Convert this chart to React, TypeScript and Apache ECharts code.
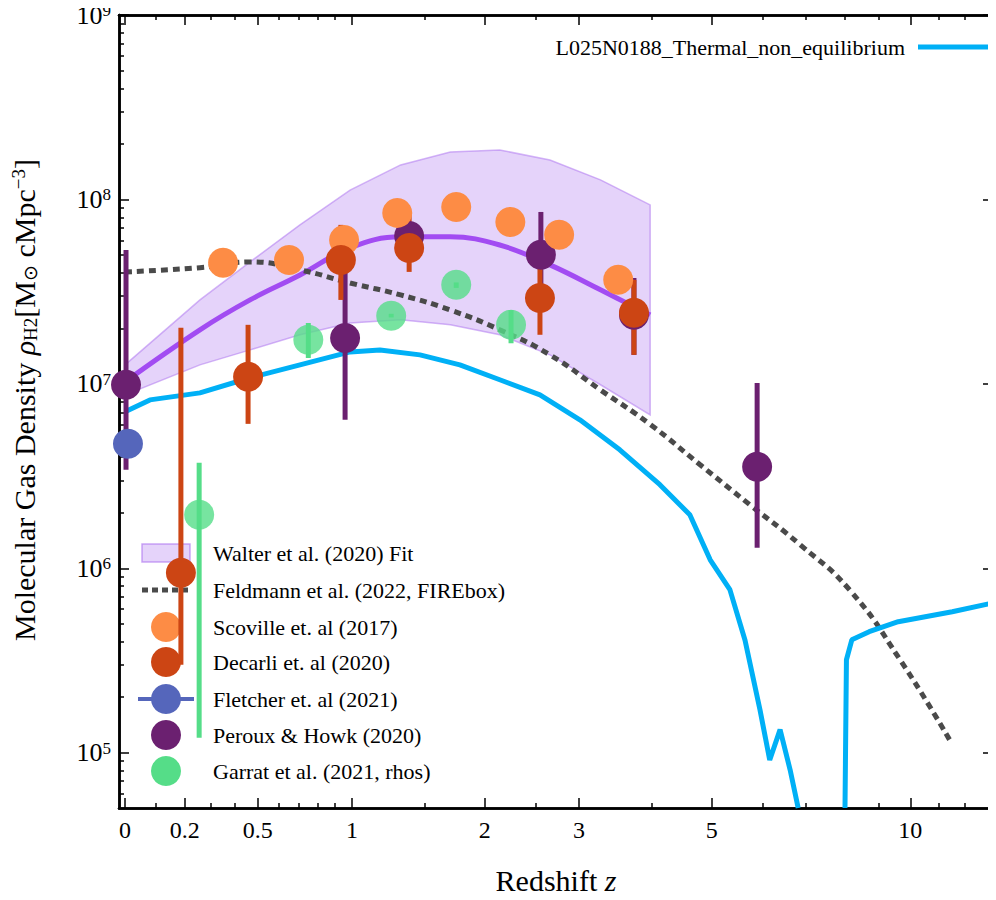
import React, { useEffect, useRef } from "react";
import * as echarts from "echarts";

// simulation curve (two segments, gap where density drops out)
const simZ1 = [0, 0.079, 0.257, 0.465, 0.706, 0.988, 1.178, 1.461, 1.78, 2.14, 2.55, 3.01, 3.53, 4.12, 4.61, 4.97, 5.34, 5.64, 5.95, 6.16, 6.39, 6.62, 6.81];
const simLog1 = [6.848, 6.913, 6.951, 7.033, 7.103, 7.173, 7.184, 7.157, 7.103, 7.022, 6.94, 6.805, 6.642, 6.453, 6.29, 6.046, 5.884, 5.61, 5.233, 4.96, 5.125, 4.907, 4.7];
const simZ2 = [8.01, 8.05, 8.2, 8.7, 9.6, 11.5, 13.2];
const simLog2 = [4.7, 5.504, 5.612, 5.656, 5.71, 5.764, 5.813];

const fireZ = [0, 0.257, 0.465, 0.706, 0.988, 1.32, 1.7, 2.14, 2.66, 3.27, 3.97, 4.79, 5.74, 6.86, 8.15, 9.66, 11.4];
const fireLog = [7.607, 7.63, 7.661, 7.618, 7.547, 7.482, 7.4, 7.293, 7.157, 6.967, 6.78, 6.561, 6.344, 6.127, 5.88, 5.504, 5.07];

const fitZ = [0, 0.257, 0.465, 0.706, 0.988, 1.32, 1.7, 2.14, 2.66, 3.27, 3.97];
const fitLog = [7.011, 7.293, 7.455, 7.59, 7.737, 7.797, 7.797, 7.753, 7.645, 7.51, 7.374];
const fitUpper = [7.103, 7.455, 7.661, 7.862, 8.05, 8.187, 8.257, 8.268, 8.214, 8.106, 7.97];
const fitLower = [6.94, 7.103, 7.184, 7.266, 7.33, 7.347, 7.32, 7.266, 7.157, 6.995, 6.832];

const scovZ = [0.349, 0.65, 0.952, 1.296, 1.749, 2.243, 2.764, 3.508];
const scovLog = [7.656, 7.672, 7.78, 7.927, 7.959, 7.878, 7.808, 7.564];

const decZ = [0.186, 0.456, 0.933, 1.381, 2.55, 3.73];
const decLog = [5.976, 7.038, 7.672, 7.737, 7.466, 7.385];
const decHi = [7.304, 7.32, 7.862, 7.916, 7.7, 7.564];
const decLo = [5.477, 6.783, 7.455, 7.607, 7.266, 7.157];

const fletZ = [0.009];
const fletLog = [6.675];

const perZ = [0.003, 0.958, 1.381, 2.56, 3.73, 5.89];
const perLog = [6.995, 7.249, 7.802, 7.7, 7.374, 6.55];
const perHi = [7.726, 7.846, 7.86, 7.932, 7.574, 7.005];
const perLo = [6.534, 6.805, 7.75, 7.455, 7.157, 6.111];

const garZ = [0.254, 0.75, 1.254, 1.749, 2.25];
const garLog = [6.29, 7.239, 7.369, 7.537, 7.32];
const garHi = [6.572, 7.33, 7.38, 7.55, 7.4];
const garLo = [5.081, 7.14, 7.36, 7.52, 7.22];

const xTickZ = [0, 0.2, 0.5, 1, 2, 3, 5, 10];
const xMinorZ = [0.1, 0.3, 0.4, 0.6, 0.7, 0.8, 0.9, 1.5, 2.5, 4, 6, 7, 8, 9, 11, 12, 13];
const yTicks = [5, 6, 7, 8, 9];

const lz = (z: number) => Math.log10(1 + z);
const pts = (zs: number[], ls: number[]) => zs.map((z, i) => [lz(z), ls[i]]);
const bars = (zs: number[], lo: number[], hi: number[]) => zs.map((z, i) => [lz(z), lo[i], hi[i]]);

const C = {
  sim: "#00b0f6",
  fire: "#4a4a4a",
  fit: "#a24cf2",
  band: "rgba(170,110,240,0.3)",
  scov: "#fd8c45",
  dec: "#cc4514",
  flet: "#5566bb",
  per: "#6b2070",
  gar: "#55dd88",
};

const SERIF = "Liberation Serif";

const errSeries = (data: number[][], color: string, w: number) => ({
  type: "custom",
  data,
  z: 3,
  renderItem: (params: any, api: any) => {
    const a = api.coord([api.value(0), api.value(1)]);
    const b = api.coord([api.value(0), api.value(2)]);
    return { type: "line", shape: { x1: a[0], y1: a[1], x2: b[0], y2: b[1] }, style: { stroke: color, lineWidth: w } };
  },
});

const scatter = (data: number[][], color: string, opacity = 1) => ({
  type: "scatter",
  data,
  symbolSize: 30,
  z: 4,
  itemStyle: { color, opacity },
});

const App: React.FC = () => {
  const ref = useRef<HTMLDivElement>(null);
  useEffect(() => {
    if (!ref.current) return;
    const chart = echarts.init(ref.current, null, { renderer: "svg" });
    const xMin = -0.008, xMax = 1.151, yMin = 4.7, yMax = 9;
    const baseX = (pos: string, major: boolean, labels: boolean) => ({
      type: "value", position: pos, min: xMin, max: xMax,
      axisLine: { show: true, onZero: false, lineStyle: { color: "#000", width: 2.5 } },
      splitLine: { show: false },
      axisTick: { inside: true, length: major ? 10 : 5, lineStyle: { color: "#000", width: 1.5 }, customValues: (major ? xTickZ : xMinorZ).map(lz) },
      axisLabel: { show: labels, customValues: xTickZ.map(lz), formatter: (v: number) => { const z = Math.pow(10, v) - 1; return String(Math.round(z * 10) / 10); }, fontFamily: SERIF, fontSize: 24, color: "#000", margin: 10 },
    });
    const yMinor: number[] = [];
    for (let n = 4; n < 9; n++) for (let k = 2; k <= 9; k++) { const v = n + Math.log10(k); if (v > yMin && v < yMax) yMinor.push(v); }
    const baseY = (pos: string, major: boolean, labels: boolean) => ({
      type: "value", position: pos, min: yMin, max: yMax,
      axisLine: { show: true, onZero: false, lineStyle: { color: "#000", width: 2.5 } },
      splitLine: { show: false },
      axisTick: { inside: true, length: major ? 10 : 5, lineStyle: { color: "#000", width: 1.5 }, customValues: major ? yTicks : yMinor },
      axisLabel: { show: labels, customValues: yTicks, formatter: (v: number) => `10{s|${v}}`, fontFamily: SERIF, fontSize: 26, color: "#000", margin: 8, rich: { s: { fontSize: 17, verticalAlign: "top", fontFamily: SERIF, padding: [0, 0, 6, 0] } } },
    });

    const legendRows = [
      { y: 553, text: "Walter et al. (2020) Fit", kind: "band" },
      { y: 590, text: "Feldmann et al. (2022, FIREbox)", kind: "dash" },
      { y: 627, text: "Scoville et. al (2017)", kind: "dot", color: C.scov },
      { y: 662, text: "Decarli et. al (2020)", kind: "dot", color: C.dec },
      { y: 699, text: "Fletcher et. al (2021)", kind: "dotline", color: C.flet },
      { y: 735, text: "Peroux & Howk (2020)", kind: "dot", color: C.per },
      { y: 771, text: "Garrat et al. (2021, rhos)", kind: "dot", color: C.gar },
    ];
    const legendEls: any[] = [];
    legendRows.forEach((r) => {
      if (r.kind === "band") legendEls.push({ type: "rect", shape: { x: 142, y: r.y - 9, width: 48, height: 18 }, style: { fill: C.band, stroke: "rgba(170,110,240,0.6)", lineWidth: 1.5 } });
      if (r.kind === "dash") legendEls.push({ type: "line", shape: { x1: 142, y1: r.y, x2: 190, y2: r.y }, style: { stroke: C.fire, lineWidth: 5, lineDash: [6, 4] } });
      if (r.kind === "dotline") legendEls.push({ type: "line", shape: { x1: 138, y1: r.y, x2: 194, y2: r.y }, style: { stroke: C.flet, lineWidth: 4 } });
      if (r.kind !== "band" && r.kind !== "dash") legendEls.push({ type: "circle", shape: { cx: 166, cy: r.y, r: 15 }, style: { fill: r.color } });
      legendEls.push({ type: "text", x: 213, y: r.y, style: { text: r.text, fontFamily: SERIF, fontSize: 22, fill: "#000", verticalAlign: "middle" } });
    });

    chart.setOption({
      animation: false,
      textStyle: { fontFamily: SERIF },
      grid: { left: 119, right: 3, top: 15, bottom: 92 },
      xAxis: [baseX("bottom", true, true), baseX("top", true, false), baseX("bottom", false, false), baseX("top", false, false)],
      yAxis: [baseY("left", true, true), baseY("right", true, false), baseY("left", false, false), baseY("right", false, false)],
      graphic: [
        ...legendEls,
        { type: "line", shape: { x1: 918, y1: 47, x2: 988, y2: 47 }, style: { stroke: C.sim, lineWidth: 5 } },
        { type: "text", x: 905, y: 47, style: { text: "L025N0188_Thermal_non_equilibrium", fontFamily: SERIF, fontSize: 22, fill: "#000", align: "right", verticalAlign: "middle" } },
        { type: "text", x: 556, y: 880, style: { text: "Redshift {i|z}", fontFamily: SERIF, fontSize: 30, fill: "#000", align: "center", verticalAlign: "middle", rich: { i: { fontStyle: "italic", fontFamily: SERIF, fontSize: 30 } } } },
        { type: "text", x: 24, y: 400, rotation: Math.PI / 2, style: { text: "Molecular Gas Density {i|ρ}{s|H2}[M{s|⊙} cMpc{u|−3}]", fontFamily: SERIF, fontSize: 30, fill: "#000", align: "center", verticalAlign: "middle", rich: { i: { fontStyle: "italic", fontFamily: SERIF, fontSize: 30 }, s: { fontSize: 19, fontFamily: SERIF, verticalAlign: "bottom", padding: [10, 0, 0, 0] }, u: { fontSize: 19, fontFamily: SERIF, verticalAlign: "top", padding: [0, 0, 12, 0] } } } },
      ],
      series: [
        {
          type: "custom",
          data: [0],
          z: 1,
          renderItem: (params: any, api: any) => {
            const up = fitZ.map((z, i) => api.coord([lz(z), fitUpper[i]]));
            const lo = fitZ.map((z, i) => api.coord([lz(z), fitLower[i]])).reverse();
            return { type: "polygon", shape: { points: [...up, ...lo] }, style: { fill: C.band, stroke: "rgba(170,110,240,0.5)", lineWidth: 1.5 } };
          },
        },
        { type: "line", data: pts(fitZ, fitLog), smooth: 0.4, symbol: "none", lineStyle: { color: C.fit, width: 5 }, z: 2 },
        { type: "line", data: pts(fireZ, fireLog), smooth: true, symbol: "none", lineStyle: { color: C.fire, width: 5, type: [7, 5] }, z: 2 },
        { type: "line", data: pts(simZ1, simLog1), symbol: "none", lineStyle: { color: C.sim, width: 5 }, z: 2 },
        { type: "line", data: pts(simZ2, simLog2), symbol: "none", lineStyle: { color: C.sim, width: 5 }, z: 2 },
        errSeries(bars(perZ, perLo, perHi), C.per, 5),
        errSeries(bars(decZ, decLo, decHi), C.dec, 5),
        errSeries(bars(garZ, garLo, garHi), C.gar, 5),
        scatter(pts(perZ, perLog), C.per),
        scatter(pts(scovZ, scovLog), C.scov),
        scatter(pts(decZ, decLog), C.dec),
        scatter(pts(fletZ, fletLog), C.flet),
        scatter(pts(garZ, garLog), C.gar, 0.8),
      ],
    });
    return () => chart.dispose();
  }, []);
  return <div ref={ref} style={{ width: 996, height: 900, margin: -8 }} />;
};

export default App;
